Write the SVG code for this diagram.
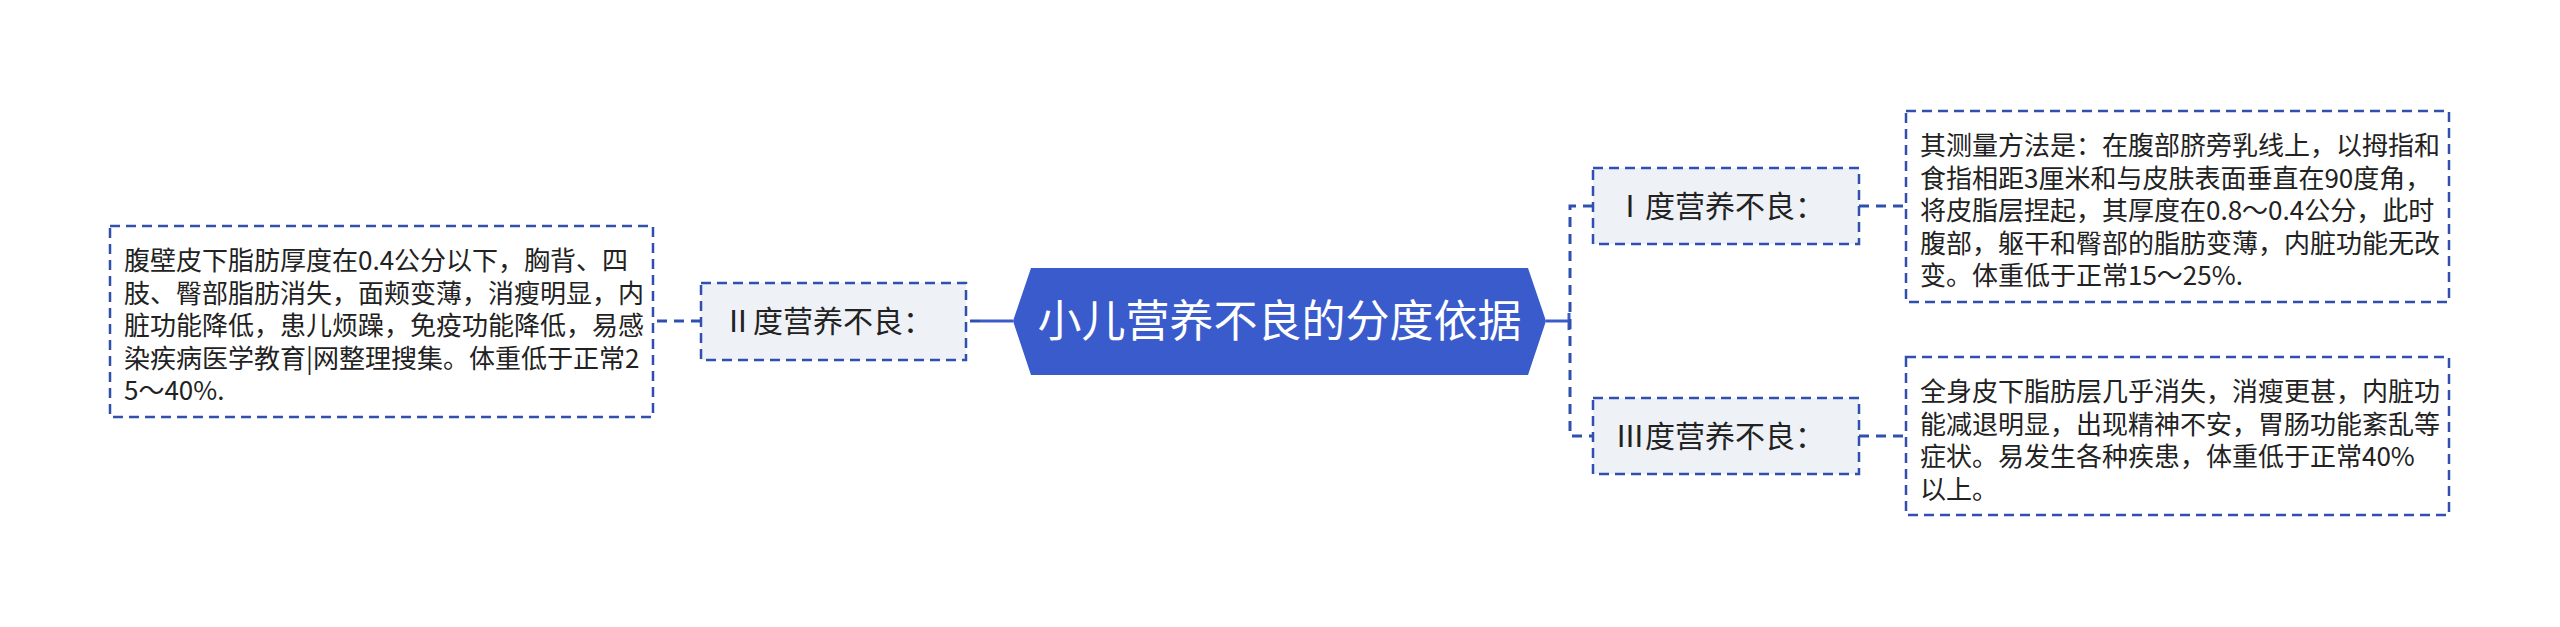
<svg xmlns="http://www.w3.org/2000/svg" width="2560" height="627" viewBox="0 0 2560 627">
<style>
.desc{fill:#ffffff;stroke:#3050b0;stroke-width:2.5;stroke-dasharray:10 6}
.lab{fill:#eef1f6;stroke:#3050b0;stroke-width:2.5;stroke-dasharray:10 6}
.dt{font-family:"Noto Sans CJK SC","Noto Sans",sans-serif;font-size:26px;fill:#222222}
.lt{font-family:"Noto Sans CJK SC","Noto Sans",sans-serif;font-size:30px;fill:#222222}
.ct{font-family:"Noto Sans CJK SC","Noto Sans",sans-serif;font-size:44px;fill:#ffffff}
.cs{fill:none;stroke:#3a5bcb;stroke-width:3}
.cd{fill:none;stroke:#3050b0;stroke-width:3;stroke-dasharray:10 7}
</style>
<rect width="2560" height="627" fill="#ffffff"/>
<g id="connectors">
<line class="cs" x1="1013" y1="321" x2="980" y2="321"/>
<line class="cd" x1="980" y1="321" x2="966" y2="321"/>
<line class="cd" x1="701" y1="321" x2="653" y2="321"/>
<line class="cs" x1="1546" y1="321" x2="1569" y2="321"/>
<line class="cs" x1="1569" y1="313" x2="1569" y2="330"/>
<path class="cd" d="M1593 206 H1570 V436 H1593"/>
<line class="cd" x1="1859" y1="206" x2="1906" y2="206"/>
<line class="cd" x1="1859" y1="436" x2="1906" y2="436"/>
</g>
<g id="root">
<polygon points="1013,321 1031,268 1528,268 1546,321 1528,375 1031,375" fill="#3a5bcb"/>
<text class="ct" x="1279.5" y="337" text-anchor="middle">小儿营养不良的分度依据</text>
</g>
<g id="grade2">
<rect class="lab" x="701" y="283" width="265" height="77"/>
<text class="lt" x="723" y="332">Ⅱ度营养不良：</text>
</g>
<g id="grade2-desc">
<rect class="desc" x="110" y="226" width="543" height="191"/>
<text class="dt">
<tspan x="124" y="270">腹壁皮下脂肪厚度在0.4公分以下，胸背、四</tspan>
<tspan x="124" y="302.5">肢、臀部脂肪消失，面颊变薄，消瘦明显，内</tspan>
<tspan x="124" y="335">脏功能降低，患儿烦躁，免疫功能降低，易感</tspan>
<tspan x="124" y="367.5">染疾病医学教育|网整理搜集。体重低于正常2</tspan>
<tspan x="124" y="400">5～40%.</tspan>
</text>
</g>
<g id="grade1">
<rect class="lab" x="1593" y="168" width="266" height="76"/>
<text class="lt" x="1615" y="217">Ⅰ度营养不良：</text>
</g>
<g id="grade1-desc">
<rect class="desc" x="1906" y="111" width="543" height="191"/>
<text class="dt">
<tspan x="1920" y="155">其测量方法是：在腹部脐旁乳线上，以拇指和</tspan>
<tspan x="1920" y="187.5">食指相距3厘米和与皮肤表面垂直在90度角，</tspan>
<tspan x="1920" y="220">将皮脂层捏起，其厚度在0.8～0.4公分，此时</tspan>
<tspan x="1920" y="252.5">腹部，躯干和臀部的脂肪变薄，内脏功能无改</tspan>
<tspan x="1920" y="285">变。体重低于正常15～25%.</tspan>
</text>
</g>
<g id="grade3">
<rect class="lab" x="1593" y="398" width="266" height="76"/>
<text class="lt" x="1615" y="447">Ⅲ度营养不良：</text>
</g>
<g id="grade3-desc">
<rect class="desc" x="1906" y="357" width="543" height="158"/>
<text class="dt">
<tspan x="1920" y="401">全身皮下脂肪层几乎消失，消瘦更甚，内脏功</tspan>
<tspan x="1920" y="433.5">能减退明显，出现精神不安，胃肠功能紊乱等</tspan>
<tspan x="1920" y="466">症状。易发生各种疾患，体重低于正常40%</tspan>
<tspan x="1920" y="498.5">以上。</tspan>
</text>
</g>
</svg>
